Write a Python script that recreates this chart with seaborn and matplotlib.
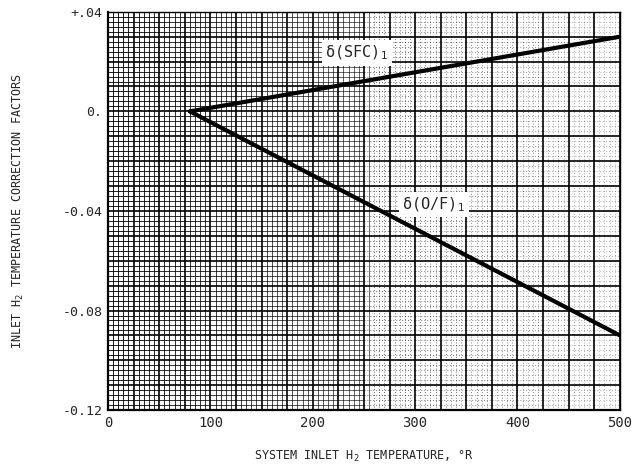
import numpy as np
import pandas as pd
import matplotlib
matplotlib.use("Agg")
import matplotlib.pyplot as plt
from matplotlib.collections import LineCollection
import seaborn as sns

# Correction-factor curves vs. system inlet H2 temperature (deg R)
temps = [80, 500]
sfc_corr = [0.0, 0.030]
of_corr = [0.0, -0.090]
series_names = ["δ(SFC)", "δ(O/F)"]

x_ticks = [0, 100, 200, 300, 400, 500]
x_tick_labels = ["0", "100", "200", "300", "400", "500"]
y_ticks = [0.04, 0.0, -0.04, -0.08, -0.12]
y_tick_labels = ["+.04", "0.", "-0.04", "-0.08", "-0.12"]

df = pd.DataFrame({
    "temp": temps * 2,
    "corr": sfc_corr + of_corr,
    "series": [series_names[0]] * len(temps) + [series_names[1]] * len(temps),
})

sns.set_theme(style="white")
plt.rcParams["font.family"] = ["DejaVu Sans Mono", "DejaVu Sans"]

fig = plt.figure(figsize=(6.43, 4.73), dpi=100)
ax = fig.add_axes([0.168, 0.133, 0.796, 0.842])
xmin, xmax, ymin, ymax = 0, 500, -0.12, 0.04
ax.set_xlim(xmin, xmax)
ax.set_ylim(ymin, ymax)


def minor_alpha(xv):
    return 0.9 - 0.6 * xv / xmax


def minor_style(xv):
    return "-" if xv < 260 else (0, (1, 2))


# graph-paper background: fine ruling heavier on the left, fading to dots on the right
minor_x = np.arange(xmin, xmax + 0.1, 5)
minor_y = np.arange(ymin, ymax + 1e-9, 0.002)
for xv in minor_x:
    if abs(xv % 25) < 1e-6:
        continue
    ax.axvline(xv, color="black", lw=0.7, alpha=minor_alpha(xv),
               ls=minor_style(xv), zorder=0)
for x0 in np.arange(xmin, xmax, 25):
    segs = []
    for yv in minor_y:
        if abs(round(yv / 0.01) * 0.01 - yv) < 1e-9:
            continue
        segs.append([(x0, yv), (x0 + 25, yv)])
    xc = x0 + 12.5
    ax.add_collection(LineCollection(segs, colors=[(0, 0, 0, minor_alpha(xc))],
                                     linewidths=0.7,
                                     linestyles=[minor_style(xc)], zorder=0))
for xv in np.arange(xmin, xmax + 0.1, 25):
    ax.axvline(xv, color="black", lw=1.2, zorder=1)
for yv in np.arange(ymin, ymax + 1e-9, 0.01):
    ax.axhline(yv, color="black", lw=1.2, zorder=1)

sns.lineplot(data=df, x="temp", y="corr", hue="series",
             palette=["black", "black"], linewidth=3.0, legend=False,
             ax=ax, zorder=3)

label_box = dict(facecolor="white", edgecolor="none", pad=2.5)
ax.text(243, 0.0235, "δ(SFC)$_1$", fontsize=11, ha="center", va="center",
        bbox=label_box, zorder=4)
ax.text(318, -0.0375, "δ(O/F)$_1$", fontsize=11, ha="center", va="center",
        bbox=label_box, zorder=4)

for side in ["left", "bottom", "right", "top"]:
    ax.spines[side].set_color("black")
    ax.spines[side].set_linewidth(1.6 if side in ("left", "bottom") else 1.0)

ax.set_xticks(x_ticks)
ax.set_xticklabels(x_tick_labels, fontsize=10)
ax.set_yticks(y_ticks)
ax.set_yticklabels(y_tick_labels, fontsize=9.5)
ax.tick_params(axis="both", length=0, pad=4)

ax.set_xlabel("SYSTEM INLET H$_2$ TEMPERATURE, °R", fontsize=8.5, labelpad=14)
ax.set_ylabel("INLET H$_2$ TEMPERATURE CORRECTION FACTORS", fontsize=8.5, labelpad=26)

fig.savefig("out.png", dpi=100)
